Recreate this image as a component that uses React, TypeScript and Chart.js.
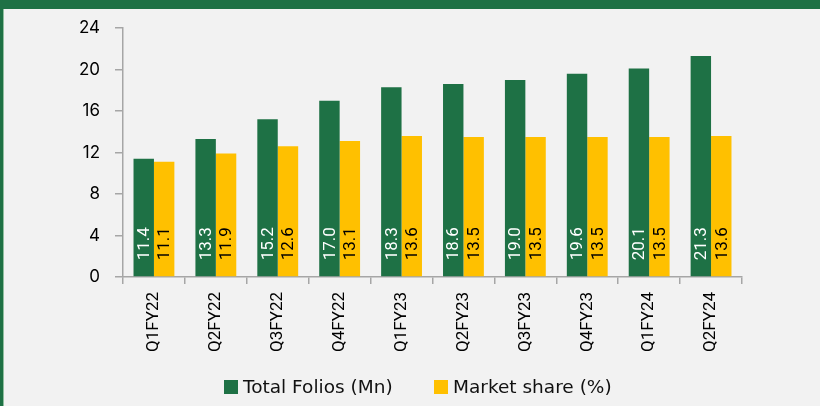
import React, { useEffect, useRef } from "react";
import { Chart, registerables } from "chart.js";

Chart.register(...registerables);

const categories = ["Q1FY22", "Q2FY22", "Q3FY22", "Q4FY22", "Q1FY23", "Q2FY23", "Q3FY23", "Q4FY23", "Q1FY24", "Q2FY24"];
const totalFolios = [11.4, 13.3, 15.2, 17.0, 18.3, 18.6, 19.0, 19.6, 20.1, 21.3];
const marketShare = [11.1, 11.9, 12.6, 13.1, 13.6, 13.5, 13.5, 13.5, 13.5, 13.6];
const seriesNames = ["Total Folios (Mn)", "Market share (%)"];
const yTicks = [0, 4, 8, 12, 16, 20, 24];

const GREEN = "#1e7145";
const YELLOW = "#ffc000";
const AXIS = "#a6a6a6";
const seriesColors = [GREEN, YELLOW];
const legendBoxX = [224, 434];

const labelPlugin = {
  id: "barLabels",
  afterDatasetsDraw(chart: any) {
    const ctx = chart.ctx;
    chart.data.datasets.forEach((ds: any, di: number) => {
      const meta = chart.getDatasetMeta(di);
      meta.data.forEach((el: any, i: number) => {
        const v = ds.data[i];
        ctx.save();
        ctx.translate(el.x, el.base - 16);
        ctx.rotate(-Math.PI / 2);
        ctx.font = "17px 'Liberation Sans Narrow', 'Roboto', sans-serif";
        ctx.fillStyle = di === 0 ? "#ffffff" : "#000000";
        ctx.textAlign = "left";
        ctx.textBaseline = "middle";
        ctx.fillText(v.toFixed(1), 0, 1);
        ctx.restore();
      });
    });
  },
};

export default function App() {
  const ref = useRef<HTMLCanvasElement>(null);
  useEffect(() => {
    if (!ref.current) return;
    const chart = new Chart(ref.current, {
      type: "bar",
      data: {
        labels: categories,
        datasets: [
          { label: seriesNames[0], data: totalFolios, backgroundColor: GREEN, barPercentage: 1, categoryPercentage: 0.66 },
          { label: seriesNames[1], data: marketShare, backgroundColor: YELLOW, barPercentage: 1, categoryPercentage: 0.66 },
        ],
      },
      options: {
        responsive: false,
        animation: false,
        layout: { padding: { left: 0, right: 78, top: 28, bottom: 29 } },
        plugins: {
          tooltip: { enabled: false },
          legend: { display: false },
        },
        scales: {
          x: {
            offset: true,
            grid: { offset: true, drawOnChartArea: false, tickLength: 7, color: AXIS, lineWidth: 1.5 },
            border: { color: AXIS, width: 1.5 },
            ticks: {
              minRotation: 90,
              maxRotation: 90,
              padding: 8,
              color: "#000",
              font: { family: "'Liberation Sans Narrow', Roboto, sans-serif", size: 17 },
            },
            afterFit: (s: any) => { s.height = 100; },
          },
          y: {
            min: 0,
            max: 24,
            afterBuildTicks: (s: any) => { s.ticks = yTicks.map((v) => ({ value: v })); },
            grid: { drawOnChartArea: false, tickLength: 8, color: AXIS, lineWidth: 1.5 },
            border: { color: AXIS, width: 1.5 },
            ticks: {
              padding: 15,
              color: "#000",
              font: { family: "Inter, 'Open Sans', sans-serif", size: 17 },
            },
            afterFit: (s: any) => { s.width = 123; },
          },
        },
      },
      plugins: [labelPlugin],
    });
    return () => chart.destroy();
  }, []);
  return (
    <div style={{ position: "fixed", left: 0, top: 0, width: 820, height: 406, background: "#f2f2f2", overflow: "hidden" }}>
      <div style={{ position: "absolute", left: 0, top: 0, width: 820, height: 9, background: GREEN }} />
      <div style={{ position: "absolute", left: 0, top: 0, width: 3, height: 406, background: GREEN }} />
      <div style={{ position: "absolute", left: 3, top: 9, width: 1, height: 397, background: "#8fbf9f" }} />
      <canvas ref={ref} width={820} height={406} style={{ position: "absolute", left: 0, top: 0 }} />
      {seriesNames.map((name, i) => (
        <React.Fragment key={name}>
          <div style={{ position: "absolute", left: legendBoxX[i], top: 380, width: 14, height: 14, background: seriesColors[i] }} />
          <span
            style={{
              position: "absolute",
              left: legendBoxX[i] + 19,
              top: 376,
              lineHeight: "22px",
              fontSize: 18.5,
              fontFamily: "'DejaVu Sans', sans-serif",
              color: "#111",
              whiteSpace: "nowrap",
            }}
          >
            {name}
          </span>
        </React.Fragment>
      ))}
    </div>
  );
}
